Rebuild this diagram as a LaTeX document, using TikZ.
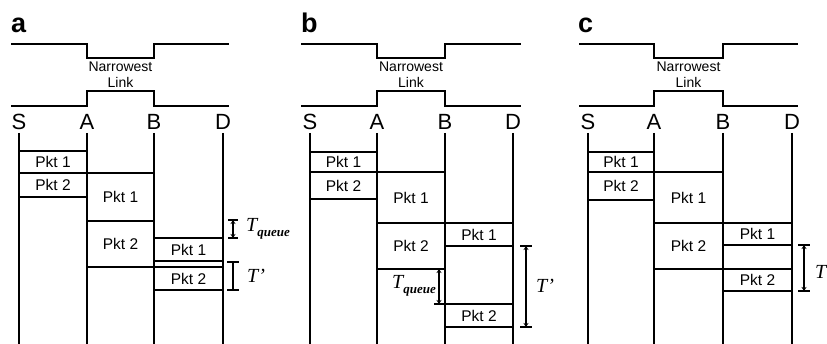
\documentclass[tikz,border=0pt]{standalone}
\usepackage{fontspec}
\setmainfont{Liberation Serif}
\newfontfamily\arialf{Liberation Sans}
\usetikzlibrary{arrows.meta}
\begin{document}
\begin{tikzpicture}[x=1pt,y=-1pt,
  vline/.style={line width=2pt},
  hline/.style={line width=1.6pt},
  linkline/.style={line width=2pt},
  pkt/.style={font=\arialf\fontsize{15.5}{16}\selectfont, inner sep=0pt},
  nlink/.style={font=\arialf\fontsize{14}{16}\selectfont, inner sep=0pt, align=center},
  host/.style={font=\arialf\fontsize{22}{22}\selectfont, inner sep=0pt, anchor=base},
  panel/.style={font=\arialf\bfseries\fontsize{27}{27}\selectfont, inner sep=0pt, anchor=base west},
  dim/.style={line width=1.1pt, {Stealth[length=4pt,width=5pt]}-{Stealth[length=4pt,width=5pt]}},
  plaindim/.style={line width=1.5pt},
  tick/.style={line width=1.5pt},
  tlbl/.style={inner sep=0pt}
]
\useasboundingbox (0,0) rectangle (827,344);
\newcommand{\Tq}{{\fontsize{20}{20}\selectfont\itshape T}\raisebox{-5pt}{\fontsize{13}{13}\selectfont\bfseries\itshape queue}}
\newcommand{\Tp}{{\fontsize{20}{20}\selectfont\itshape T’}}
\newcommand{\Tt}{{\fontsize{20}{20}\selectfont\itshape T}}

%% ---------------- panel a ----------------
\node[panel] (pa) at (11,33) {a};
\draw[linkline] (11,44) -- (87,44) -- (87,58) -- (154,58) -- (154,44) -- (229,44);
\draw[linkline] (11,106) -- (87,106) -- (87,91) -- (154,91) -- (154,106) -- (229,106);
\node[nlink] (aNL) at (120.5,75) {Narrowest\\Link};
\node[host] (aS) at (19,130) {S};
\node[host] (aA) at (87,130) {A};
\node[host] (aB) at (154,130) {B};
\node[host] (aD) at (223,130) {D};
\foreach \x in {19,87,154,223} \draw[vline] (\x,133) -- (\x,344);
% S-A
\foreach \y in {151,173,197} \draw[hline] (19,\y) -- (87,\y);
\node[pkt] (aP1s) at (53,162) {Pkt 1};
\node[pkt] (aP2s) at (53,185) {Pkt 2};
% A-B
\foreach \y in {173,221} \draw[hline] (87,\y) -- (154,\y);
\draw[hline] (87,267) -- (223,267);
\node[pkt] (aP1a) at (120.5,197) {Pkt 1};
\node[pkt] (aP2a) at (120.5,244) {Pkt 2};
% B-D
\foreach \y in {238,261,290} \draw[hline] (154,\y) -- (223,\y);
\node[pkt] (aP1b) at (188.5,249.5) {Pkt 1};
\node[pkt] (aP2b) at (188.5,279) {Pkt 2};
% dims
\coordinate (aq1) at (233,220); \coordinate (aq2) at (233,238);
\draw[dim] (aq1) -- (aq2);
\draw[tick] ([xshift=-5pt]aq1) -- ([xshift=5pt]aq1);
\draw[tick] ([xshift=-5pt]aq2) -- ([xshift=5pt]aq2);
\node[tlbl, anchor=west] (aTq) at (246,229) {\Tq};
\coordinate (ap1) at (233,262); \coordinate (ap2) at (233,290);
\draw[plaindim] (ap1) -- (ap2);
\draw[tick] ([xshift=-6pt]ap1) -- ([xshift=6pt]ap1);
\draw[tick] ([xshift=-6pt]ap2) -- ([xshift=6pt]ap2);
\node[tlbl, anchor=west] (aTp) at (247,276) {\Tp};

%% ---------------- panel b ----------------
\node[panel] (pb) at (301,33) {b};
\draw[linkline] (301,44) -- (377,44) -- (377,58) -- (445,58) -- (445,44) -- (521,44);
\draw[linkline] (301,106) -- (377,106) -- (377,91) -- (445,91) -- (445,106) -- (521,106);
\node[nlink] (bNL) at (411,75) {Narrowest\\Link};
\node[host] (bS) at (310,130) {S};
\node[host] (bA) at (377,130) {A};
\node[host] (bB) at (445,130) {B};
\node[host] (bD) at (513,130) {D};
\foreach \x in {310,377,445,513} \draw[vline] (\x,133) -- (\x,344);
\foreach \y in {152,172,199} \draw[hline] (310,\y) -- (377,\y);
\node[pkt] (bP1s) at (343.5,162) {Pkt 1};
\node[pkt] (bP2s) at (343.5,186) {Pkt 2};
\foreach \y in {172,269} \draw[hline] (377,\y) -- (445,\y);
\draw[hline] (377,223) -- (513,223);
\node[pkt] (bP1a) at (411,198) {Pkt 1};
\node[pkt] (bP2a) at (411,246) {Pkt 2};
\foreach \y in {246,304,327} \draw[hline] (445,\y) -- (513,\y);
\node[pkt] (bP1b) at (479,234.5) {Pkt 1};
\node[pkt] (bP2b) at (479,315.5) {Pkt 2};
\coordinate (bq1) at (439,269); \coordinate (bq2) at (439,304);
\draw[dim] (bq1) -- (bq2);
\draw[tick] ([xshift=-5pt]bq1) -- ([xshift=5pt]bq1);
\draw[tick] ([xshift=-5pt]bq2) -- ([xshift=5pt]bq2);
\node[tlbl, anchor=east] (bTq) at (436,286) {\Tq};
\coordinate (bp1) at (526,246); \coordinate (bp2) at (526,327);
\draw[dim] (bp1) -- (bp2);
\draw[tick] ([xshift=-6pt]bp1) -- ([xshift=6pt]bp1);
\draw[tick] ([xshift=-6pt]bp2) -- ([xshift=6pt]bp2);
\node[tlbl, anchor=west] (bTp) at (536,286) {\Tp};

%% ---------------- panel c ----------------
\node[panel] (pc) at (578,33) {c};
\draw[linkline] (579,44) -- (654,44) -- (654,58) -- (723,58) -- (723,44) -- (798,44);
\draw[linkline] (579,106) -- (654,106) -- (654,91) -- (723,91) -- (723,106) -- (798,106);
\node[nlink] (cNL) at (688.5,75) {Narrowest\\Link};
\node[host] (cS) at (588,130) {S};
\node[host] (cA) at (654,130) {A};
\node[host] (cB) at (723,130) {B};
\node[host] (cD) at (792,130) {D};
\foreach \x in {588,654,723,792} \draw[vline] (\x,133) -- (\x,344);
\foreach \y in {152,172,200} \draw[hline] (588,\y) -- (654,\y);
\node[pkt] (cP1s) at (621,162) {Pkt 1};
\node[pkt] (cP2s) at (621,186) {Pkt 2};
\draw[hline] (654,172) -- (723,172);
\draw[hline] (654,223) -- (792,223);
\draw[hline] (654,269) -- (792,269);
\node[pkt] (cP1a) at (688.5,198) {Pkt 1};
\node[pkt] (cP2a) at (688.5,246) {Pkt 2};
\foreach \y in {245,291} \draw[hline] (723,\y) -- (792,\y);
\node[pkt] (cP1b) at (757.5,234) {Pkt 1};
\node[pkt] (cP2b) at (757.5,280) {Pkt 2};
\coordinate (ct1) at (804,245); \coordinate (ct2) at (804,291);
\draw[dim] (ct1) -- (ct2);
\draw[tick] ([xshift=-6pt]ct1) -- ([xshift=6pt]ct1);
\draw[tick] ([xshift=-6pt]ct2) -- ([xshift=6pt]ct2);
\node[tlbl, anchor=west] (cT) at (815,272) {\Tt};
\end{tikzpicture}
\end{document}
